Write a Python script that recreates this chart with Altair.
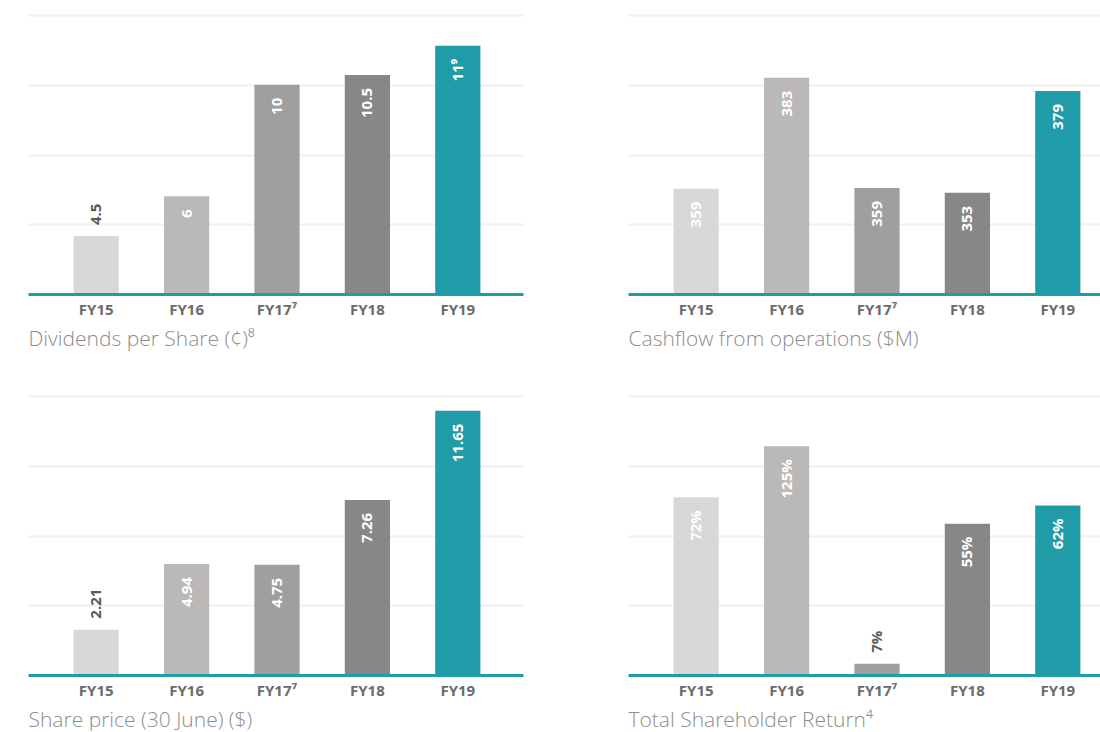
import altair as alt
import pandas as pd

# ---- data ----
years = ["FY15", "FY16", "FY17⁷", "FY18", "FY19"]
bar_colors = ["#d9d8d7", "#bab9b8", "#a09f9f", "#878787", "#1f9ca7"]

div_labels = ["4.5", "6", "10", "10.5", "11⁹"]
div_heights = [0.83, 1.40, 3.00, 3.14, 3.56]

cash_labels = ["359", "383", "359", "353", "379"]
cash_heights = [1.51, 3.10, 1.52, 1.45, 2.91]

price_labels = ["2.21", "4.94", "4.75", "7.26", "11.65"]
price_heights = [0.65, 1.59, 1.58, 2.51, 3.79]

tsr_labels = ["72%", "125%", "7%", "55%", "62%"]
tsr_heights = [2.55, 3.28, 0.16, 2.17, 2.43]

titles = [
    "Dividends per Share (¢)⁸",
    "Cashflow from operations ($M)",
    "Share price (30 June) ($)",
    "Total Shareholder Return⁴",
]

FONT = "Open Sans"
TEAL = "#1f9ca7"
STEP = 90.4
PI = 0.5
FIRST = 45.6
H = 279


def panel(labels, heights, title, width):
    df = pd.DataFrame({"year": years, "h": heights, "label": labels})
    used = STEP * (len(years) - PI)
    po = (width / STEP - len(years) + PI) / 2
    align = FIRST / (width - used)
    xscale = alt.Scale(domain=years, paddingInner=PI, paddingOuter=po, align=align)
    x = alt.X(
        "year:N",
        scale=xscale,
        sort=years,
        axis=alt.Axis(
            title=title,
            titleAnchor="start",
            titleAlign="left",
            titleFont=FONT,
            titleFontSize=21,
            titleFontWeight=300,
            titleColor="#8d8d8d",
            titlePadding=11,
            labelFont=FONT,
            labelFontSize=15,
            labelFontWeight="bold",
            labelColor="#6b6b6b",
            labelPadding=8,
            labelAngle=0,
            ticks=False,
            domainColor=TEAL,
            domainWidth=3,
            zindex=1,
        ),
    )
    y = alt.Y(
        "h:Q",
        scale=alt.Scale(domain=[0, 4], nice=False),
        axis=alt.Axis(
            title=None,
            labels=False,
            ticks=False,
            domain=False,
            values=[0, 1, 2, 3, 4],
            gridColor="#efefef",
            gridWidth=2,
        ),
    )
    base = alt.Chart(df).encode(x=x, y=y)
    bars = base.mark_bar().encode(
        color=alt.Color(
            "year:N",
            scale=alt.Scale(domain=years, range=bar_colors),
            legend=None,
        )
    )
    inside = base.transform_filter("datum.h >= 1").mark_text(
        angle=270,
        align="right",
        baseline="middle",
        dx=-13,
        font=FONT,
        fontSize=15,
        fontWeight="bold",
        color="white",
    ).encode(text="label:N")
    outside = base.transform_filter("datum.h < 1").mark_text(
        angle=270,
        align="left",
        baseline="middle",
        dx=11,
        font=FONT,
        fontSize=15,
        fontWeight="bold",
        color="#5a5a5a",
    ).encode(text="label:N")
    return alt.layer(bars, inside, outside).properties(width=width, height=H)


p1 = panel(div_labels, div_heights, titles[0], 495)
p2 = panel(cash_labels, cash_heights, titles[1], 472)
p3 = panel(price_labels, price_heights, titles[2], 495)
p4 = panel(tsr_labels, tsr_heights, titles[3], 472)

chart = (
    alt.concat(p1, p2, p3, p4, columns=2, spacing={"row": 102, "column": 105}, bounds="flush")
    .properties(padding={"left": 28, "top": 15, "right": 0, "bottom": 1}, background="white")
    .configure_view(stroke=None)
)

chart.save("out.html", embed_options={"renderer": "svg", "actions": False})
